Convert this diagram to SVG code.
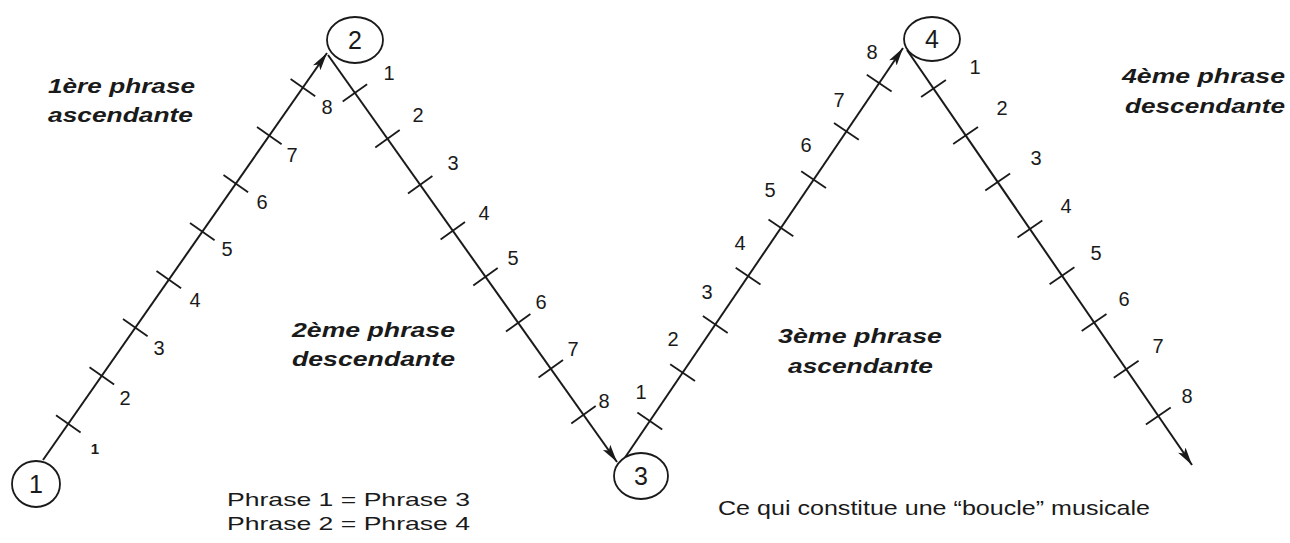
<svg xmlns="http://www.w3.org/2000/svg" width="1290" height="543" viewBox="0 0 1290 543">
<style>
.ln{stroke:#1a1a1a;stroke-width:2;fill:none}
.tk{stroke:#1a1a1a;stroke-width:1.8}
.nd{fill:#fff;stroke:#1a1a1a;stroke-width:1.8}
.nt{font-family:"Liberation Sans",Arial,sans-serif;font-size:25px;fill:#1a1a1a;text-anchor:middle}
.lb{font-family:"Liberation Sans",Arial,sans-serif;font-size:20px;fill:#1a1a1a;text-anchor:middle}
.ph{font-family:"Liberation Sans",Arial,sans-serif;font-size:21px;font-weight:bold;font-style:italic;fill:#1a1a1a}
.tx{font-family:"Liberation Sans",Arial,sans-serif;font-size:21px;fill:#1a1a1a}
</style>
<defs>
<marker id="arr" markerUnits="userSpaceOnUse" markerWidth="20" markerHeight="12" refX="18" refY="6" orient="auto">
<path d="M0,1.5 L18,6 L0,10.5 L4,6 Z" fill="#1a1a1a"/>
</marker>
</defs>
<rect width="1290" height="543" fill="#fff"/>
<g id="connectors">
<line class="ln" x1="43" y1="460" x2="327" y2="53" marker-end="url(#arr)"/>
<line class="ln" x1="328" y1="55" x2="617" y2="462" marker-end="url(#arr)"/>
<line class="ln" x1="622" y1="462" x2="903" y2="48" marker-end="url(#arr)"/>
<line class="ln" x1="907" y1="50" x2="1192" y2="465" marker-end="url(#arr)"/>
</g>
<g id="ticks1">
<line class="tk" x1="56" y1="415.2" x2="80.6" y2="432.4"/>
<line class="tk" x1="89.5" y1="367.2" x2="114.1" y2="384.4"/>
<line class="tk" x1="123" y1="319.1" x2="147.6" y2="336.3"/>
<line class="tk" x1="156.5" y1="271.1" x2="181.1" y2="288.3"/>
<line class="tk" x1="190" y1="223.1" x2="214.6" y2="240.3"/>
<line class="tk" x1="223.5" y1="175" x2="248.1" y2="192.2"/>
<line class="tk" x1="257" y1="127" x2="281.6" y2="144.2"/>
<line class="tk" x1="290.6" y1="79" x2="315.2" y2="96.2"/>
<text class="lb" x="95" y="454" style="font-size:15px;font-weight:bold">1</text>
<text class="lb" x="125" y="405">2</text>
<text class="lb" x="159" y="355">3</text>
<text class="lb" x="195" y="307">4</text>
<text class="lb" x="227" y="256">5</text>
<text class="lb" x="262" y="209">6</text>
<text class="lb" x="292" y="162">7</text>
<text class="lb" x="327" y="114">8</text>
</g>
<g id="ticks2">
<line class="tk" x1="342.7" y1="101.6" x2="367.1" y2="84.2"/>
<line class="tk" x1="375.3" y1="147.5" x2="399.7" y2="130.1"/>
<line class="tk" x1="408" y1="193.5" x2="432.4" y2="176.1"/>
<line class="tk" x1="440.6" y1="239.5" x2="465" y2="222.1"/>
<line class="tk" x1="473.3" y1="285.5" x2="497.7" y2="268.1"/>
<line class="tk" x1="506" y1="331.5" x2="530.4" y2="314.1"/>
<line class="tk" x1="538.6" y1="377.5" x2="563" y2="360.1"/>
<line class="tk" x1="571.3" y1="423.5" x2="595.7" y2="406.1"/>
<text class="lb" x="389" y="80">1</text>
<text class="lb" x="418" y="122">2</text>
<text class="lb" x="453" y="170">3</text>
<text class="lb" x="484" y="220">4</text>
<text class="lb" x="513" y="265">5</text>
<text class="lb" x="541" y="309">6</text>
<text class="lb" x="573" y="356">7</text>
<text class="lb" x="604" y="408">8</text>
</g>
<g id="ticks3">
<line class="tk" x1="637.4" y1="412.6" x2="662.2" y2="429.4"/>
<line class="tk" x1="670.2" y1="364.3" x2="695" y2="381.1"/>
<line class="tk" x1="702.9" y1="316.1" x2="727.7" y2="332.9"/>
<line class="tk" x1="735.7" y1="267.8" x2="760.5" y2="284.6"/>
<line class="tk" x1="768.5" y1="219.5" x2="793.3" y2="236.3"/>
<line class="tk" x1="801.2" y1="171.3" x2="826" y2="188.1"/>
<line class="tk" x1="834" y1="123" x2="858.8" y2="139.8"/>
<line class="tk" x1="866.8" y1="74.7" x2="891.6" y2="91.5"/>
<text class="lb" x="641" y="399">1</text>
<text class="lb" x="673" y="346">2</text>
<text class="lb" x="707" y="299">3</text>
<text class="lb" x="740" y="250">4</text>
<text class="lb" x="770" y="197">5</text>
<text class="lb" x="806" y="152">6</text>
<text class="lb" x="839" y="107">7</text>
<text class="lb" x="872" y="59">8</text>
</g>
<g id="ticks4">
<line class="tk" x1="921.1" y1="97.1" x2="945.9" y2="80.1"/>
<line class="tk" x1="953.2" y1="143.9" x2="978" y2="126.9"/>
<line class="tk" x1="985.3" y1="190.6" x2="1010.1" y2="173.6"/>
<line class="tk" x1="1017.5" y1="237.4" x2="1042.3" y2="220.4"/>
<line class="tk" x1="1049.6" y1="284.2" x2="1074.4" y2="267.2"/>
<line class="tk" x1="1081.7" y1="330.9" x2="1106.5" y2="313.9"/>
<line class="tk" x1="1113.8" y1="377.7" x2="1138.6" y2="360.7"/>
<line class="tk" x1="1145.9" y1="424.5" x2="1170.7" y2="407.5"/>
<text class="lb" x="975" y="74">1</text>
<text class="lb" x="1002" y="115">2</text>
<text class="lb" x="1036" y="165">3</text>
<text class="lb" x="1066" y="213">4</text>
<text class="lb" x="1096" y="260">5</text>
<text class="lb" x="1124" y="306">6</text>
<text class="lb" x="1158" y="353">7</text>
<text class="lb" x="1187" y="403">8</text>
</g>
<g id="node1"><ellipse class="nd" cx="36" cy="484" rx="24" ry="23"/><text class="nt" x="36" y="493">1</text></g>
<g id="node2"><ellipse class="nd" cx="355" cy="40" rx="28" ry="23"/><text class="nt" x="355" y="49">2</text></g>
<g id="node3"><ellipse class="nd" cx="641" cy="476" rx="27" ry="23"/><text class="nt" x="641" y="485">3</text></g>
<g id="node4"><ellipse class="nd" cx="932" cy="39" rx="28" ry="22"/><text class="nt" x="932" y="48">4</text></g>
<g id="labels">
<text class="ph" x="48" y="93" textLength="147" lengthAdjust="spacingAndGlyphs" style="font-size:20px">1ère phrase</text>
<text class="ph" x="48" y="122" textLength="145" lengthAdjust="spacingAndGlyphs" style="font-size:20px">ascendante</text>
<text class="ph" x="292" y="337" textLength="163" lengthAdjust="spacingAndGlyphs">2ème phrase</text>
<text class="ph" x="292" y="366" textLength="163" lengthAdjust="spacingAndGlyphs">descendante</text>
<text class="ph" x="778" y="343" textLength="164" lengthAdjust="spacingAndGlyphs">3ème phrase</text>
<text class="ph" x="788" y="373" textLength="145" lengthAdjust="spacingAndGlyphs">ascendante</text>
<text class="ph" x="1122" y="83" textLength="163" lengthAdjust="spacingAndGlyphs">4ème phrase</text>
<text class="ph" x="1125" y="113" textLength="160" lengthAdjust="spacingAndGlyphs">descendante</text>
<text class="tx" x="227" y="506" textLength="243" lengthAdjust="spacingAndGlyphs" style="font-size:19px">Phrase 1 = Phrase 3</text>
<text class="tx" x="227" y="530" textLength="243" lengthAdjust="spacingAndGlyphs" style="font-size:19px">Phrase 2 = Phrase 4</text>
<text class="tx" x="718" y="515" textLength="432" lengthAdjust="spacingAndGlyphs">Ce qui constitue une “boucle” musicale</text>
</g>
</svg>
